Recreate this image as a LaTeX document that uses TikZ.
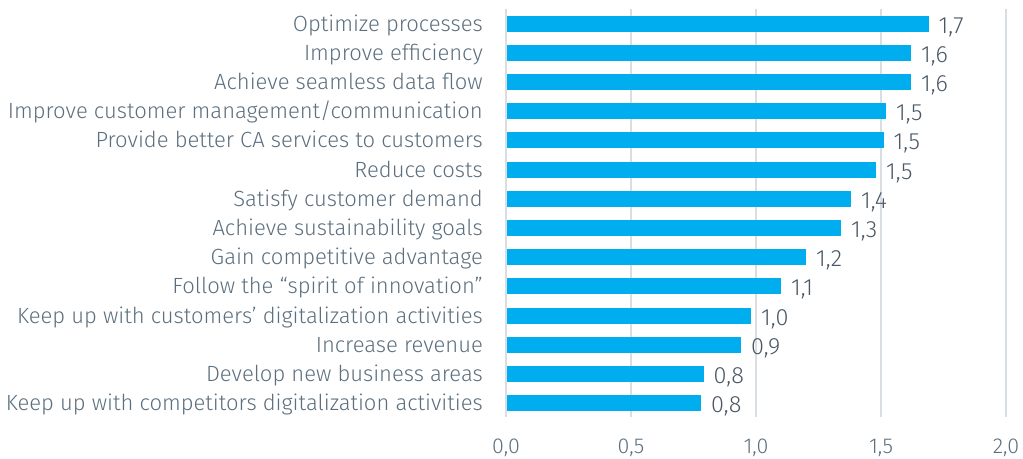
\documentclass[tikz,border=0pt]{standalone}
\usepackage{fontspec}
\setmainfont{Fira Sans}[UprightFont={* Light}]
\definecolor{barc}{HTML}{00AEEF}
\definecolor{gridc}{HTML}{D9DEE3}
\definecolor{txtc}{HTML}{5C6F7E}
\definecolor{valc}{HTML}{4A5866}
\begin{document}
\begin{tikzpicture}[x=1pt,y=-1pt,
  bar/.style={fill=barc,draw=none},
  gline/.style={draw=gridc,line width=1.6pt},
  cat/.style={anchor=base east,text=txtc,font=\fontsize{22}{22}\selectfont,inner sep=0pt},
  val/.style={anchor=base west,text=valc,font=\fontsize{23.5}{23.5}\selectfont,inner sep=0pt},
  tick/.style={anchor=base,text=txtc,font=\fontsize{21.5}{21.5}\selectfont,inner sep=0pt}]
\useasboundingbox (0,0) rectangle (1023,458);
% grid
\foreach \i/\t in {0/{0,0},1/{0,5},2/{1,0},3/{1,5},4/{2,0}}{
  \coordinate (gt\i) at (506+125*\i,9);
  \coordinate (gb\i) at (506+125*\i,417);
  \draw[gline] (gt\i) -- (gb\i);
  \node[tick] (tk\i) at (506+125*\i,453) {\t};
}
\foreach \v/\lab/\txt [count=\k from 0] in {
  1.69/{1,7}/{Optimize processes},
  1.62/{1,6}/{Improve efficiency},
  1.62/{1,6}/{Achieve seamless data flow},
  1.52/{1,5}/{Improve customer management/communication},
  1.51/{1,5}/{Provide better CA services to customers},
  1.48/{1,5}/{Reduce costs\ },
  1.38/{1,4}/{Satisfy customer demand},
  1.34/{1,3}/{Achieve sustainability goals},
  1.20/{1,2}/{Gain competitive advantage},
  1.10/{1,1}/{Follow the “spirit of innovation”},
  0.98/{1,0}/{Keep up with customers’ digitalization activities},
  0.94/{0,9}/{Increase revenue},
  0.79/{0,8}/{Develop new business areas\ },
  0.78/{0,8}/{Keep up with competitors digitalization activities}}{
  \pgfmathsetmacro{\yc}{23.5+29.2*\k}
  \pgfmathsetmacro{\xe}{506+250*\v}
  \path[bar] (507,\yc-8) rectangle (\xe,\yc+8);
  \node[cat] (c\k) at (483,\yc+7.5) {\txt};
  \node[val] (v\k) at (\xe+10,\yc+9.5) {\lab};
}
\end{tikzpicture}
\end{document}
